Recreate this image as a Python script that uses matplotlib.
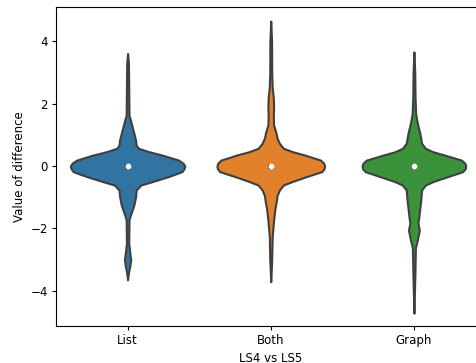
import matplotlib
matplotlib.use("Agg")
import matplotlib.pyplot as plt
import numpy as np

plt.rcParams["font.size"] = 8.5
plt.rcParams["xtick.major.size"] = 3
plt.rcParams["ytick.major.size"] = 3
plt.rcParams["xtick.major.pad"] = 3
plt.rcParams["ytick.major.pad"] = 3
plt.rcParams["axes.labelpad"] = 3

# categories and colours
categories = ["List", "Both", "Graph"]
colors = ["#3274a1", "#e1812c", "#3a923a"]

# violin profiles: y value and relative density (1 = widest)
list_y = [3.61, 3.3, 2.5, 1.63, 1.47, 1.26, 1.05, 0.83, 0.67, 0.57, 0.46, 0.35,
          0.19, 0.09, 0.0, -0.09, -0.18, -0.34, -0.5, -0.61, -0.77, -0.98, -1.25,
          -1.41, -1.6, -1.73, -2.47, -2.8, -3.01, -3.2, -3.43, -3.65]
list_d = [0.0, 0.015, 0.02, 0.025, 0.05, 0.08, 0.11, 0.14, 0.15, 0.19, 0.37, 0.61,
          0.89, 0.97, 1.0, 0.985, 0.95, 0.71, 0.43, 0.23, 0.15, 0.14, 0.11,
          0.08, 0.045, 0.025, 0.02, 0.04, 0.055, 0.04, 0.015, 0.0]

both_y = [4.65, 4.0, 3.0, 2.54, 2.2, 1.9, 1.6, 1.31, 1.1, 0.9, 0.73, 0.57, 0.46,
          0.35, 0.19, 0.09, 0.0, -0.09, -0.18, -0.34, -0.5, -0.61, -0.77, -0.95,
          -1.09, -1.41, -1.73, -2.27, -3.0, -3.71]
both_d = [0.0, 0.015, 0.017, 0.025, 0.045, 0.05, 0.045, 0.05, 0.087, 0.11, 0.15,
          0.22, 0.38, 0.6, 0.87, 0.925, 0.94, 0.93, 0.89, 0.62, 0.37, 0.22, 0.15,
          0.11, 0.10, 0.07, 0.05, 0.025, 0.017, 0.0]

graph_y = [3.66, 3.0, 2.2, 1.69, 1.47, 1.26, 1.05, 0.73, 0.57, 0.46, 0.35, 0.19,
           0.09, 0.0, -0.09, -0.18, -0.34, -0.5, -0.61, -0.77, -1.09, -1.4, -1.62,
           -1.83, -2.05, -2.37, -2.63, -3.5, -4.72]
graph_d = [0.0, 0.015, 0.02, 0.03, 0.05, 0.075, 0.104, 0.134, 0.20, 0.33, 0.54,
           0.83, 0.89, 0.905, 0.895, 0.85, 0.59, 0.33, 0.20, 0.134, 0.12, 0.10,
           0.087, 0.07, 0.095, 0.06, 0.026, 0.017, 0.0]

# inner box summary
medians = [0.0, 0.0, 0.0]
q1 = [-0.08, -0.08, -0.08]
q3 = [0.08, 0.08, 0.08]

profiles = [(list_y, list_d), (both_y, both_d), (graph_y, graph_d)]

fig = plt.figure(figsize=(4.77, 3.63), dpi=100)
# right edge of the axes sits just past the figure (cropped like the original)
ax = fig.add_axes([0.1174, 0.1019, 0.9004, 0.8788])

half_width = 0.4
edge = "#3f3f3f"
for i, (ys, ds) in enumerate(profiles):
    ys = np.array(ys)
    ds = np.array(ds) * half_width
    ax.fill_betweenx(ys, i - ds, i + ds, facecolor=colors[i], edgecolor=edge,
                     linewidth=1.5, zorder=1)
    ax.plot([i, i], [q1[i], q3[i]], color=edge, linewidth=4,
            solid_capstyle="butt", zorder=2)
    ax.scatter([i], [medians[i]], s=10, color="white", zorder=3)

ax.set_xticks(range(len(categories)))
ax.set_xticklabels(categories)
ax.set_xlim(-0.5, 2.5)
ax.set_ylim(-5.13, 5.1)
ax.set_yticks([-4, -2, 0, 2, 4])
ax.set_xlabel("LS4 vs LS5")
ax.set_ylabel("Value of difference")

plt.savefig("out.png", dpi=100)
